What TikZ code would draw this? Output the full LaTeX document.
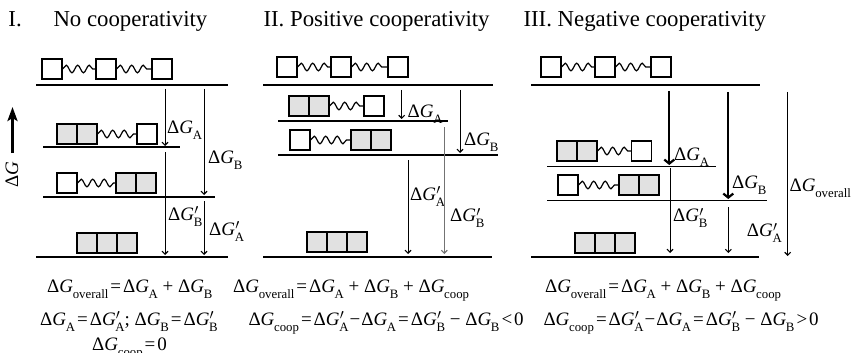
\documentclass[tikz,border=0pt]{standalone}
\usepackage{fontspec}
\setmainfont{Liberation Serif}
\usetikzlibrary{arrows.meta,decorations.pathmorphing}
\definecolor{boxgray}{RGB}{225,225,225}
\definecolor{arrgray}{RGB}{115,115,115}
\newcommand\subs[1]{\raisebox{-0.32em}{\fontsize{12.8}{13}\selectfont #1}}
\newcommand\Dg[1]{Δ\textit{G}\kern-0.3pt\subs{#1}}
\newcommand\Dgp[1]{Δ\textit{G}\kern-0.3pt\rlap{\kern0.5pt\raisebox{0.3em}{$\scriptstyle\prime$}}\subs{#1}}
\newcommand\eqs{\kern2pt=\kern2pt}
\tikzset{
  lvl/.style={line width=1.2pt},
  arr/.style={line width=0.8pt,-{Straight Barb[length=3pt,width=6pt,line width=1.1pt]}},
  tarr/.style={line width=1.7pt,-{Straight Barb[length=4pt,width=10pt,line width=2.2pt]}},
  garr/.style={arr,draw=arrgray},
  bigarr/.style={line width=3pt,-{Stealth[length=14pt,width=10pt,inset=3pt]}},
  box/.style={draw,line width=1.2pt,minimum size=20pt,inner sep=0pt},
  gbox/.style={box,fill=boxgray},
  spring/.style={decorate,decoration={snake,amplitude=3.8pt,segment length=11.5pt},line width=1.2pt},
  lab/.style={anchor=base west,inner sep=0pt,font=\fontsize{19}{22}\selectfont},
  ttl/.style={anchor=base west,inner sep=0pt,font=\fontsize{22.8}{26}\selectfont},
}
\begin{document}
\begin{tikzpicture}[x=1pt,y=-1pt]
\useasboundingbox (0,0) rectangle (852,353);
% titles
\node[ttl] (t1n) at (8.3,26.7) {I.};
\node[ttl] (t1) at (53.3,26.7) {No cooperativity};
\node[ttl] (t2) at (263.3,26.7) {II. Positive cooperativity};
\node[ttl] (t3) at (523.3,26.7) {III. Negative cooperativity};
% Delta G axis
\coordinate (dgb) at (12.5,153);
\coordinate (dgt) at (12.5,107);
\draw[bigarr] (dgb) -- (dgt);
\node[rotate=90,inner sep=0pt,font=\fontsize{19}{22}\selectfont] (dglab) at (12,175) {Δ\textit{G}};

% ================= Panel I =================
\draw[lvl] (36,85) -- (228,85);
\draw[lvl] (43,147) -- (180,147);
\draw[lvl] (43,197) -- (215,197);
\draw[lvl] (36,257) -- (228,257);
\node[box] (p1t1) at (52,69) {};
\node[box] (p1t2) at (106,69) {};
\node[box] (p1t3) at (162,69) {};
\draw[spring] (p1t1.east) -- (p1t2.west);
\draw[spring] (p1t2.east) -- (p1t3.west);
\node[gbox] (p1a1) at (67,134) {};
\node[gbox] (p1a2) at (87,134) {};
\node[box] (p1a3) at (147,134) {};
\draw[spring] (p1a2.east) -- (p1a3.west);
\node[box] (p1b1) at (67,183) {};
\node[gbox] (p1b2) at (126,183) {};
\node[gbox] (p1b3) at (146,183) {};
\draw[spring] (p1b1.east) -- (p1b2.west);
\node[gbox] (p1c1) at (87,243) {};
\node[gbox] (p1c2) at (107,243) {};
\node[gbox] (p1c3) at (127,243) {};
\coordinate (p1as) at (165,89); \coordinate (p1ae) at (165,146);
\draw[arr] (p1as) -- (p1ae);
\node[lab] (p1al) at (167,133) {\Dg{A}};
\coordinate (p1bs) at (204,89); \coordinate (p1be) at (204,195);
\draw[arr] (p1bs) -- (p1be);
\node[lab] (p1bl) at (208,163) {\Dg{B}};
\coordinate (p1cs) at (165,152); \coordinate (p1ce) at (165,255);
\draw[arr] (p1cs) -- (p1ce);
\node[lab] (p1cl) at (168,220) {\Dgp{B}};
\coordinate (p1ds) at (204,201); \coordinate (p1de) at (204,255);
\draw[arr] (p1ds) -- (p1de);
\node[lab] (p1dl) at (209,235) {\Dgp{A}};
\node[lab] (e11) at (47,292) {\Dg{overall}\eqs\Dg{A} + \Dg{B}};
\node[lab] (e12) at (40,325) {\Dg{A}\eqs\Dgp{A}; \Dg{B}\eqs\Dgp{B}};
\node[lab] (e13) at (92,350) {\Dg{coop}\eqs 0};

% ================= Panel II =================
\draw[lvl] (263,85) -- (493,85);
\draw[lvl] (278,121) -- (448,121);
\draw[lvl] (278,155) -- (498,155);
\draw[lvl] (263,257) -- (492,257);
\node[box] (p2t1) at (287,67) {};
\node[box] (p2t2) at (341,67) {};
\node[box] (p2t3) at (398,67) {};
\draw[spring] (p2t1.east) -- (p2t2.west);
\draw[spring] (p2t2.east) -- (p2t3.west);
\node[gbox] (p2a1) at (299,106) {};
\node[gbox] (p2a2) at (319,106) {};
\node[box] (p2a3) at (374,106) {};
\draw[spring] (p2a2.east) -- (p2a3.west);
\node[box] (p2b1) at (300,140) {};
\node[gbox] (p2b2) at (361,140) {};
\node[gbox] (p2b3) at (381,140) {};
\draw[spring] (p2b1.east) -- (p2b2.west);
\node[gbox] (p2c1) at (317,242) {};
\node[gbox] (p2c2) at (337,242) {};
\node[gbox] (p2c3) at (357,242) {};
\coordinate (p2as) at (401.7,90); \coordinate (p2ae) at (401.7,119);
\draw[arr] (p2as) -- (p2ae);
\node[lab] (p2al) at (407.5,117.3) {\Dg{A}};
\coordinate (p2bs) at (460,90); \coordinate (p2be) at (460,153);
\draw[arr] (p2bs) -- (p2be);
\node[lab] (p2bl) at (464,145) {\Dg{B}};
\coordinate (p2cs) at (408,160); \coordinate (p2ce) at (408,254);
\draw[arr] (p2cs) -- (p2ce);
\node[lab] (p2cl) at (410,200) {\Dgp{A}};
\coordinate (p2ds) at (444.3,127); \coordinate (p2de) at (444.3,254);
\draw[garr] (p2ds) -- (p2de);
\node[lab] (p2dl) at (450,221.7) {\Dgp{B}};
\node[lab] (e21) at (233,292) {\Dg{overall}\eqs\Dg{A} + \Dg{B} + \Dg{coop}};
\node[lab] (e22) at (248.3,325) {\Dg{coop}\eqs\Dgp{A}\kern1pt−\kern1pt\Dg{A}\eqs\Dgp{B} − \Dg{B}\kern2pt<\kern2pt0};

% ================= Panel III =================
\draw[lvl] (531,85) -- (760,85);
\draw[lvl] (547,166.5) -- (716,166.5);
\draw[lvl] (547,200.7) -- (767,200.7);
\draw[lvl] (531,257) -- (759,257);
\node[box] (p3t1) at (551,67) {};
\node[box] (p3t2) at (605,67) {};
\node[box] (p3t3) at (661,67) {};
\draw[spring] (p3t1.east) -- (p3t2.west);
\draw[spring] (p3t2.east) -- (p3t3.west);
\node[gbox] (p3a1) at (567,151) {};
\node[gbox] (p3a2) at (587,151) {};
\node[box] (p3a3) at (641.5,151) {};
\draw[spring] (p3a2.east) -- (p3a3.west);
\node[box] (p3b1) at (568,185) {};
\node[gbox] (p3b2) at (629,185) {};
\node[gbox] (p3b3) at (649,185) {};
\draw[spring] (p3b1.east) -- (p3b2.west);
\node[gbox] (p3c1) at (585,243) {};
\node[gbox] (p3c2) at (605,243) {};
\node[gbox] (p3c3) at (625,243) {};
\coordinate (p3as) at (669.3,91); \coordinate (p3ae) at (669.3,165);
\draw[tarr] (p3as) -- (p3ae);
\node[lab] (p3al) at (674,160) {\Dg{A}};
\coordinate (p3bs) at (728.3,92); \coordinate (p3be) at (728.3,199);
\draw[tarr] (p3bs) -- (p3be);
\node[lab] (p3bl) at (732,188.3) {\Dg{B}};
\coordinate (p3cs) at (670,168); \coordinate (p3ce) at (670,253);
\draw[arr] (p3cs) -- (p3ce);
\node[lab] (p3cl) at (673,221.7) {\Dgp{B}};
\coordinate (p3ds) at (728.3,207); \coordinate (p3de) at (728.3,253);
\draw[arr] (p3ds) -- (p3de);
\node[lab] (p3dl) at (746.7,236.7) {\Dgp{A}};
\coordinate (p3os) at (787.7,92); \coordinate (p3oe) at (787.7,256);
\draw[arr] (p3os) -- (p3oe);
\node[lab] (p3ol) at (789.5,191.7) {\Dg{overall}};
\node[lab] (e31) at (545,292) {\Dg{overall}\eqs\Dg{A} + \Dg{B} + \Dg{coop}};
\node[lab] (e32) at (543.3,325) {\Dg{coop}\eqs\Dgp{A}\kern1pt−\kern1pt\Dg{A}\eqs\Dgp{B} − \Dg{B}\kern2pt>\kern2pt0};
\end{tikzpicture}
\end{document}
